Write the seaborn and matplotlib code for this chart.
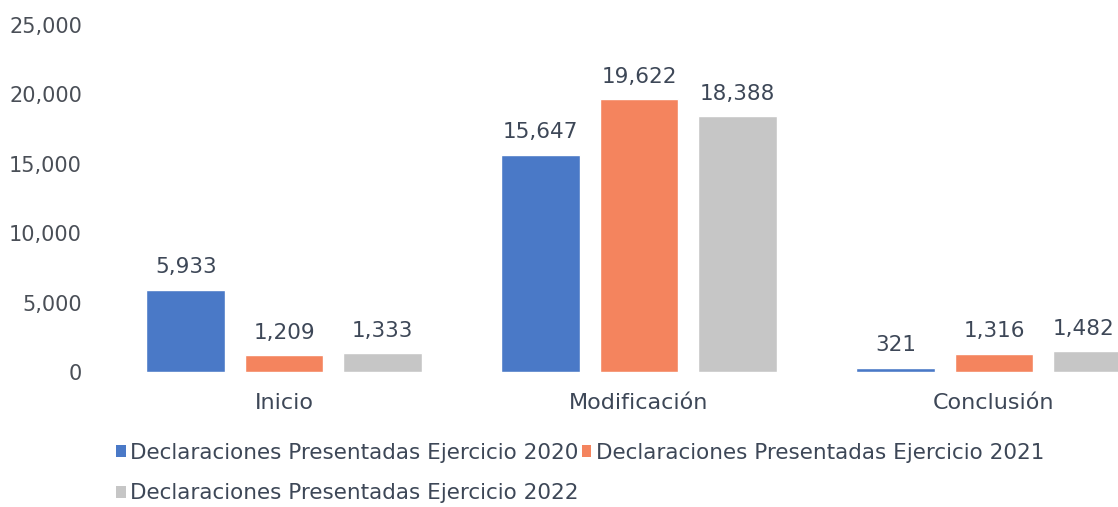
import matplotlib
matplotlib.use("Agg")
import matplotlib.pyplot as plt
from matplotlib.patches import Patch
from matplotlib.ticker import FuncFormatter
import seaborn as sns
import pandas as pd

categorias = ["Inicio", "Modificación", "Conclusión"]
series = ["Declaraciones Presentadas Ejercicio 2020",
          "Declaraciones Presentadas Ejercicio 2021",
          "Declaraciones Presentadas Ejercicio 2022"]
valores_2020 = [5933, 15647, 321]
valores_2021 = [1209, 19622, 1316]
valores_2022 = [1333, 18388, 1482]
y_ticks = [0, 5000, 10000, 15000, 20000, 25000]

colores = ["#4a79c7", "#f4845e", "#c6c6c6"]
texto = "#3d4757"

rows = []
for serie, vals in zip(series, [valores_2020, valores_2021, valores_2022]):
    for cat, v in zip(categorias, vals):
        rows.append({"categoria": cat, "serie": serie, "valor": v})
df = pd.DataFrame(rows)

sns.set_theme(style="white")
plt.rcParams['font.family'] = ['DejaVu Sans']

fig = plt.figure(figsize=(11.18, 5.07), dpi=100)
W, H = 1118, 507
# axes: left px 100 -> right px 1118, bottom px 372 -> top px 20
ax = fig.add_axes([100 / W, 1 - 372 / H, (1118 - 100) / W, (372 - 20) / H])

sns.barplot(data=df, x="categoria", y="valor", hue="serie", palette=colores,
            width=0.83, gap=0.2, ax=ax, legend=False, saturation=1)

# x: category centres at px 284, 638, 994 (355 px per unit)
ax.set_xlim((100 - 284) / 355, (1118 - 284) / 355)
ax.set_ylim(0, 25330)
ax.set_yticks(y_ticks)
ax.yaxis.set_major_formatter(FuncFormatter(lambda v, p: f"{int(v):,}"))
ax.set_xlabel("")
ax.set_ylabel("")
ax.tick_params(axis="y", length=0, pad=13, labelsize=15, labelcolor="#4a4f57")
ax.tick_params(axis="x", length=0, pad=15, labelsize=16, labelcolor=texto)
for s in ax.spines.values():
    s.set_visible(False)
ax.grid(False)

for cont in ax.containers:
    anns = ax.bar_label(cont, labels=[f"{int(b.get_height()):,}" for b in cont],
                        padding=9, fontsize=15.5, color=texto)
# last bar is cut at the right edge; pull its label inside
anns[-1].xyann = (-6, anns[-1].xyann[1])

# column-major legend fill -> order so rows read 2020, 2021 / 2022
orden = [0, 2, 1]
handles = [Patch(facecolor=colores[i], edgecolor="none") for i in orden]
etiquetas = [series[i] for i in orden]
fig.legend(handles, etiquetas, loc="upper left", bbox_to_anchor=(116 / W, 1 - 443 / H),
           ncol=2, frameon=False, fontsize=15.5, handlelength=0.45, handleheight=0.5,
           handletextpad=0.2, columnspacing=0.15, labelspacing=0.95,
           labelcolor=texto, borderaxespad=0, borderpad=0)

fig.savefig("out.png", dpi=100, facecolor="white")
